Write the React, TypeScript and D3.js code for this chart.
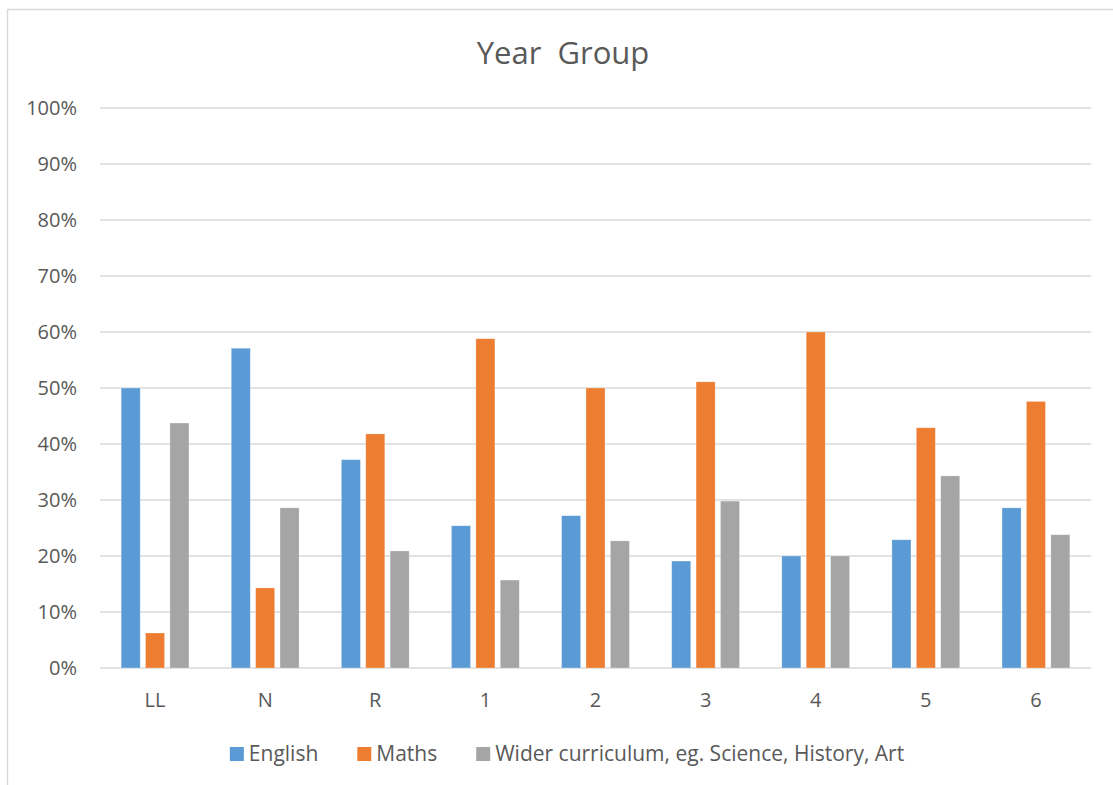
import React from 'react'
import * as d3 from 'd3'

const categories = ['LL', 'N', 'R', '1', '2', '3', '4', '5', '6']
const seriesNames = ['English', 'Maths', 'Wider curriculum, eg. Science, History, Art']
const english = [50, 57.1, 37.2, 25.4, 27.2, 19.1, 20, 22.9, 28.6]
const maths = [6.25, 14.3, 41.8, 58.8, 50, 51.1, 60, 42.9, 47.6]
const wider = [43.75, 28.6, 20.9, 15.7, 22.7, 29.8, 20, 34.3, 23.8]
const yTicks = [0, 10, 20, 30, 40, 50, 60, 70, 80, 90, 100]
const colors = ['#5b9bd5', '#ed7d31', '#a5a5a5']

const svgWidth = 1113
const svgHeight = 785
const margin = { left: 100, right: 22, top: 108, bottom: 117 }
const font = '"Open Sans", "Liberation Sans", sans-serif'
const textColor = '#595959'
const gridColor = '#d9d9d9'

// rough text width, so the legend can be laid out like Excel does
const measure = (txt: string, size: number) => {
  const ctx = document.createElement('canvas').getContext('2d')
  if (!ctx) return txt.length * size * 0.5
  ctx.font = size + 'px ' + font
  return ctx.measureText(txt).width
}

const App = () => {
  const plotRight = svgWidth - margin.right
  const plotBottom = svgHeight - margin.bottom

  const x = d3.scaleBand<string>()
    .domain(categories)
    .range([margin.left, plotRight])

  const y = d3.scaleLinear()
    .domain([0, 100])
    .range([plotBottom, margin.top])

  const groupWidth = 67.8
  const x1 = d3.scaleBand<string>()
    .domain(seriesNames)
    .range([0, groupWidth])
    .paddingInner(0.22)

  const data = [english, maths, wider]

  // legend layout
  const legendSize = 21
  const swatch = 14
  const itemGap = 39
  const widths = seriesNames.map(s => swatch + 5 + measure(s, legendSize))
  const legendTotal = d3.sum(widths) + itemGap * (seriesNames.length - 1)
  let lx = 567 - legendTotal / 2
  const legendX = widths.map(w => { const v = lx; lx += w + itemGap; return v })

  return (
    <svg width={svgWidth} height={svgHeight} style={{ position: 'absolute', left: 0, top: 0, background: '#fff' }}>
      <rect x={7.5} y={9.5} width={svgWidth} height={svgHeight} fill="#fff" stroke={gridColor} strokeWidth={1.5} />

      <text x={563} y={64} textAnchor="middle" fontFamily={font} fontSize={31} fill={textColor} style={{ whiteSpace: 'pre' }}>
        {'Year  Group'}
      </text>

      <g className="grid">
        {yTicks.map(t => (
          <line key={t} x1={margin.left} x2={plotRight} y1={y(t)} y2={y(t)} stroke={gridColor} strokeWidth={1.5} />
        ))}
      </g>

      <g className="axis axis--y" fontFamily={font} fontSize={20} fill={textColor} textAnchor="end">
        {yTicks.map(t => (
          <text key={t} x={77} y={y(t)} dy="0.36em">{t + '%'}</text>
        ))}
      </g>

      {data.map((vals, si) => (
        <g key={si} fill={colors[si]}>
          {vals.map((v, i) => (
            <rect key={i}
              x={(x(categories[i]) || 0) + x.bandwidth() / 2 - groupWidth / 2 + (x1(seriesNames[si]) || 0)}
              y={y(v)}
              width={x1.bandwidth()}
              height={plotBottom - y(v)}
              stroke="#fff" strokeOpacity={0.35} strokeWidth={0.75} />
          ))}
        </g>
      ))}

      <g className="axis axis--x" fontFamily={font} fontSize={20} fill={textColor} textAnchor="middle">
        {categories.map(c => (
          <text key={c} x={(x(c) || 0) + x.bandwidth() / 2} y={707}>{c}</text>
        ))}
      </g>

      <g className="legend" fontFamily={font} fontSize={legendSize} fill={textColor}>
        {seriesNames.map((s, i) => (
          <g key={s} transform={'translate(' + legendX[i] + ',0)'}>
            <rect x={0} y={747} width={swatch} height={swatch} fill={colors[i]} />
            <text x={swatch + 5} y={761}>{s}</text>
          </g>
        ))}
      </g>
    </svg>
  )
}

export default App
